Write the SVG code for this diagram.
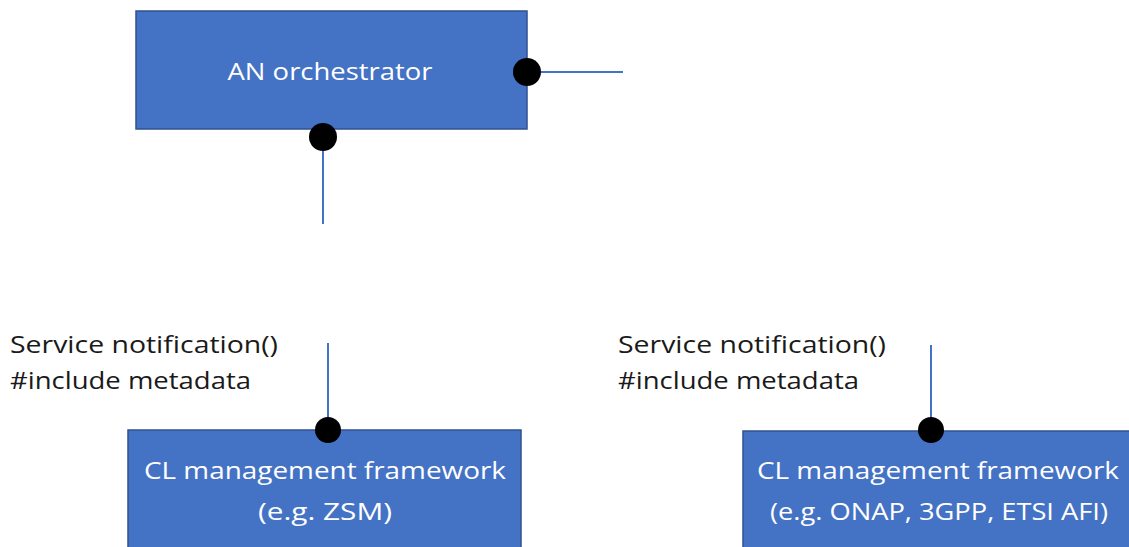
<svg xmlns="http://www.w3.org/2000/svg" width="1129" height="547" viewBox="0 0 1129 547">
<style>
.box{fill:#4472C4;stroke:#2F528F;stroke-width:1.5}
.bt{fill:#ffffff;font-family:"Open Sans","Liberation Sans",sans-serif;font-size:24px;text-anchor:middle}
.lbl{fill:#1a1a1a;font-family:"Open Sans","Liberation Sans",sans-serif;font-size:24px}
.ln{stroke:#4472C4;stroke-width:2;fill:none}
.dot{fill:#000000}
</style>
<rect width="1129" height="547" fill="#ffffff"/>
<g id="an-orchestrator">
<rect class="box" x="136" y="11" width="391" height="118"/>
<text class="bt" x="330" y="80" textLength="205" lengthAdjust="spacingAndGlyphs">AN orchestrator</text>
</g>
<g id="cl-zsm">
<rect class="box" x="128" y="430" width="393" height="130"/>
<text class="bt" x="325" y="479" textLength="362" lengthAdjust="spacingAndGlyphs">CL management framework</text>
<text class="bt" x="325" y="520" textLength="134" lengthAdjust="spacingAndGlyphs">(e.g. ZSM)</text>
</g>
<g id="cl-onap">
<rect class="box" x="743" y="431" width="393" height="130"/>
<text class="bt" x="938" y="479" textLength="362" lengthAdjust="spacingAndGlyphs">CL management framework</text>
<text class="bt" x="939" y="520" textLength="338" lengthAdjust="spacingAndGlyphs">(e.g. ONAP, 3GPP, ETSI AFI)</text>
</g>
<g id="labels">
<text class="lbl" x="10" y="353" textLength="268" lengthAdjust="spacingAndGlyphs">Service notification()</text>
<text class="lbl" x="10" y="389" textLength="241" lengthAdjust="spacingAndGlyphs">#include metadata</text>
<text class="lbl" x="618" y="353" textLength="268" lengthAdjust="spacingAndGlyphs">Service notification()</text>
<text class="lbl" x="618" y="389" textLength="241" lengthAdjust="spacingAndGlyphs">#include metadata</text>
</g>
<g id="connectors">
<line class="ln" x1="527" y1="72" x2="623" y2="72"/>
<line class="ln" x1="323" y1="137" x2="323" y2="224"/>
<line class="ln" x1="328" y1="343" x2="328" y2="430"/>
<line class="ln" x1="931" y1="345" x2="931" y2="430"/>
<circle class="dot" cx="527" cy="72" r="14"/>
<circle class="dot" cx="323" cy="137" r="14"/>
<circle class="dot" cx="328" cy="430" r="13"/>
<circle class="dot" cx="931" cy="430" r="13"/>
</g>
</svg>
